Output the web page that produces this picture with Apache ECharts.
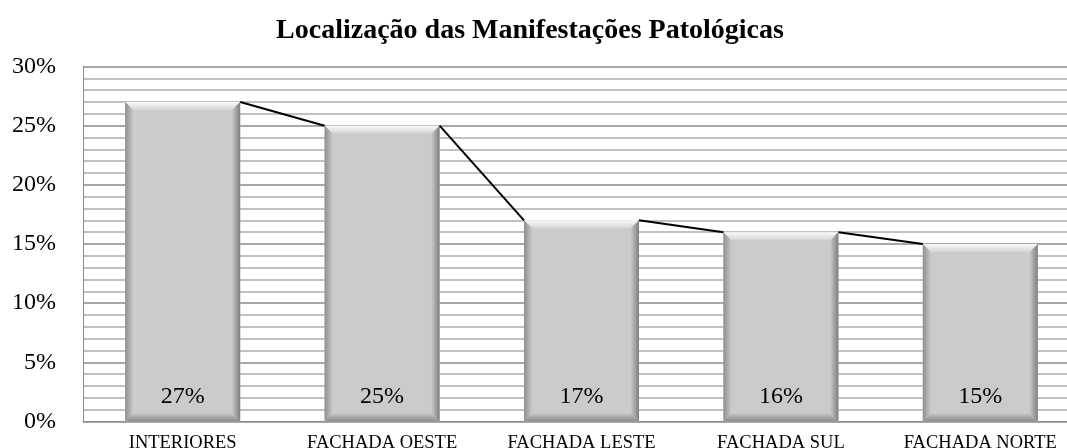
<!DOCTYPE html>
<html>
<head>
<meta charset="utf-8">
<script src="https://cdn.jsdelivr.net/npm/echarts@6/dist/echarts.min.js"></script>
<style>
	html, body { margin: 0; padding: 0; background: #fff; }
	#chart { width: 1067px; height: 448px; }
</style>
</head>
<body>
<div id="chart"></div>
<script>
// 数据
var g_categories = ["INTERIORES", "FACHADA OESTE", "FACHADA LESTE", "FACHADA SUL", "FACHADA NORTE"];
var g_values = [27, 25, 17, 16, 15];
var g_y_ticks = [0, 5, 10, 15, 20, 25, 30];

var FONT = "'Liberation Serif', 'Times New Roman', serif";
var BAR_W = 115;
var BEVEL = 8;

// 连接线数据：[起点类目, 起点值, 终点值]
var g_links = [];
for (var i = 0; i < g_values.length - 1; i++)
	g_links.push([i, g_values[i], g_values[i + 1]]);

// 柱子的斜面装饰
function render_bevel(params, api) {
	var top = api.coord([api.value(0), api.value(1)]);
	var base = api.coord([api.value(0), 0]);
	var x0 = top[0] - BAR_W / 2, x1 = top[0] + BAR_W / 2;
	var y0 = top[1], yb = base[1], b = BEVEL;
	return {
		type: "group",
		children: [
			{
				type: "polygon",
				shape: { points: [[x0, y0], [x1, y0], [x1 - b, y0 + b], [x0 + b, y0 + b]] },
				style: { fill: new echarts.graphic.LinearGradient(0, 0, 0, 1, [
					{ offset: 0, color: "#fafafa" }, { offset: 1, color: "#d4d4d4" }]) }
			},
			{
				type: "polygon",
				shape: { points: [[x0, y0], [x0 + b, y0 + b], [x0 + b, yb - b], [x0, yb]] },
				style: { fill: new echarts.graphic.LinearGradient(0, 0, 1, 0, [
					{ offset: 0, color: "#8e8e8e" }, { offset: 1, color: "#c9c9c9" }]) }
			},
			{
				type: "polygon",
				shape: { points: [[x1, y0], [x1 - b, y0 + b], [x1 - b, yb - b], [x1, yb]] },
				style: { fill: new echarts.graphic.LinearGradient(1, 0, 0, 0, [
					{ offset: 0, color: "#7e7e7e" }, { offset: 1, color: "#c7c7c7" }]) }
			},
			{
				type: "polygon",
				shape: { points: [[x0, yb], [x0 + b, yb - b], [x1 - b, yb - b], [x1, yb]] },
				style: { fill: new echarts.graphic.LinearGradient(0, 1, 0, 0, [
					{ offset: 0, color: "#8a8a8a" }, { offset: 1, color: "#c5c5c5" }]) }
			}
		]
	};
}

// 柱顶之间的连接线
function render_link(params, api) {
	var p1 = api.coord([api.value(0), api.value(1)]);
	var p2 = api.coord([api.value(0) + 1, api.value(2)]);
	return {
		type: "line",
		shape: { x1: p1[0] + BAR_W / 2, y1: p1[1], x2: p2[0] - BAR_W / 2, y2: p2[1] },
		style: { stroke: "#000", lineWidth: 2 }
	};
}

var g_chart = echarts.init(document.getElementById("chart"));
g_chart.setOption({
	animation: false,
	title: {
		text: "Localização das Manifestações Patológicas",
		left: 525,
		top: 12,
		textAlign: "center",
		textStyle: { fontFamily: FONT, fontSize: 28, fontWeight: "bold", color: "#000" }
	},
	grid: { left: 83, top: 66.5, right: -13, bottom: 26.5, outerBoundsMode: "none" },
	xAxis: {
		type: "category",
		data: g_categories,
		axisLine: { lineStyle: { color: "#8c8c8c", width: 1 } },
		axisTick: { show: false },
		axisLabel: { fontFamily: FONT, fontSize: 18.5, color: "#000", margin: 12, interval: 0 }
	},
	yAxis: {
		type: "value",
		min: g_y_ticks[0],
		max: g_y_ticks[g_y_ticks.length - 1],
		interval: g_y_ticks[1] - g_y_ticks[0],
		axisLine: { show: true, lineStyle: { color: "#8c8c8c", width: 1 } },
		axisTick: { show: false },
		axisLabel: { fontFamily: FONT, fontSize: 24, color: "#000", margin: 27, formatter: "{value}%" },
		splitLine: { show: true, lineStyle: { color: "#8a8a8a", width: 1.5 } },
		minorTick: { show: false, splitNumber: 5 },
		minorSplitLine: { show: true, lineStyle: { color: "#adadad", width: 1.5 } }
	},
	series: [
		{
			type: "bar",
			data: g_values,
			barWidth: BAR_W,
			itemStyle: { color: "#cbcbcb" },
			label: {
				show: true,
				position: "insideBottom",
				distance: 13,
				formatter: "{c}%",
				fontFamily: FONT,
				fontSize: 24,
				color: "#000"
			},
			z: 2
		},
		{
			type: "custom",
			data: g_values.map(function (v, i) { return [i, v]; }),
			renderItem: render_bevel,
			silent: true,
			z: 3
		},
		{
			type: "custom",
			data: g_links,
			encode: { x: 0, y: [1, 2] },
			renderItem: render_link,
			silent: true,
			z: 4
		}
	]
});
window.addEventListener("resize", g_chart.resize);
</script>
</body>
</html>
